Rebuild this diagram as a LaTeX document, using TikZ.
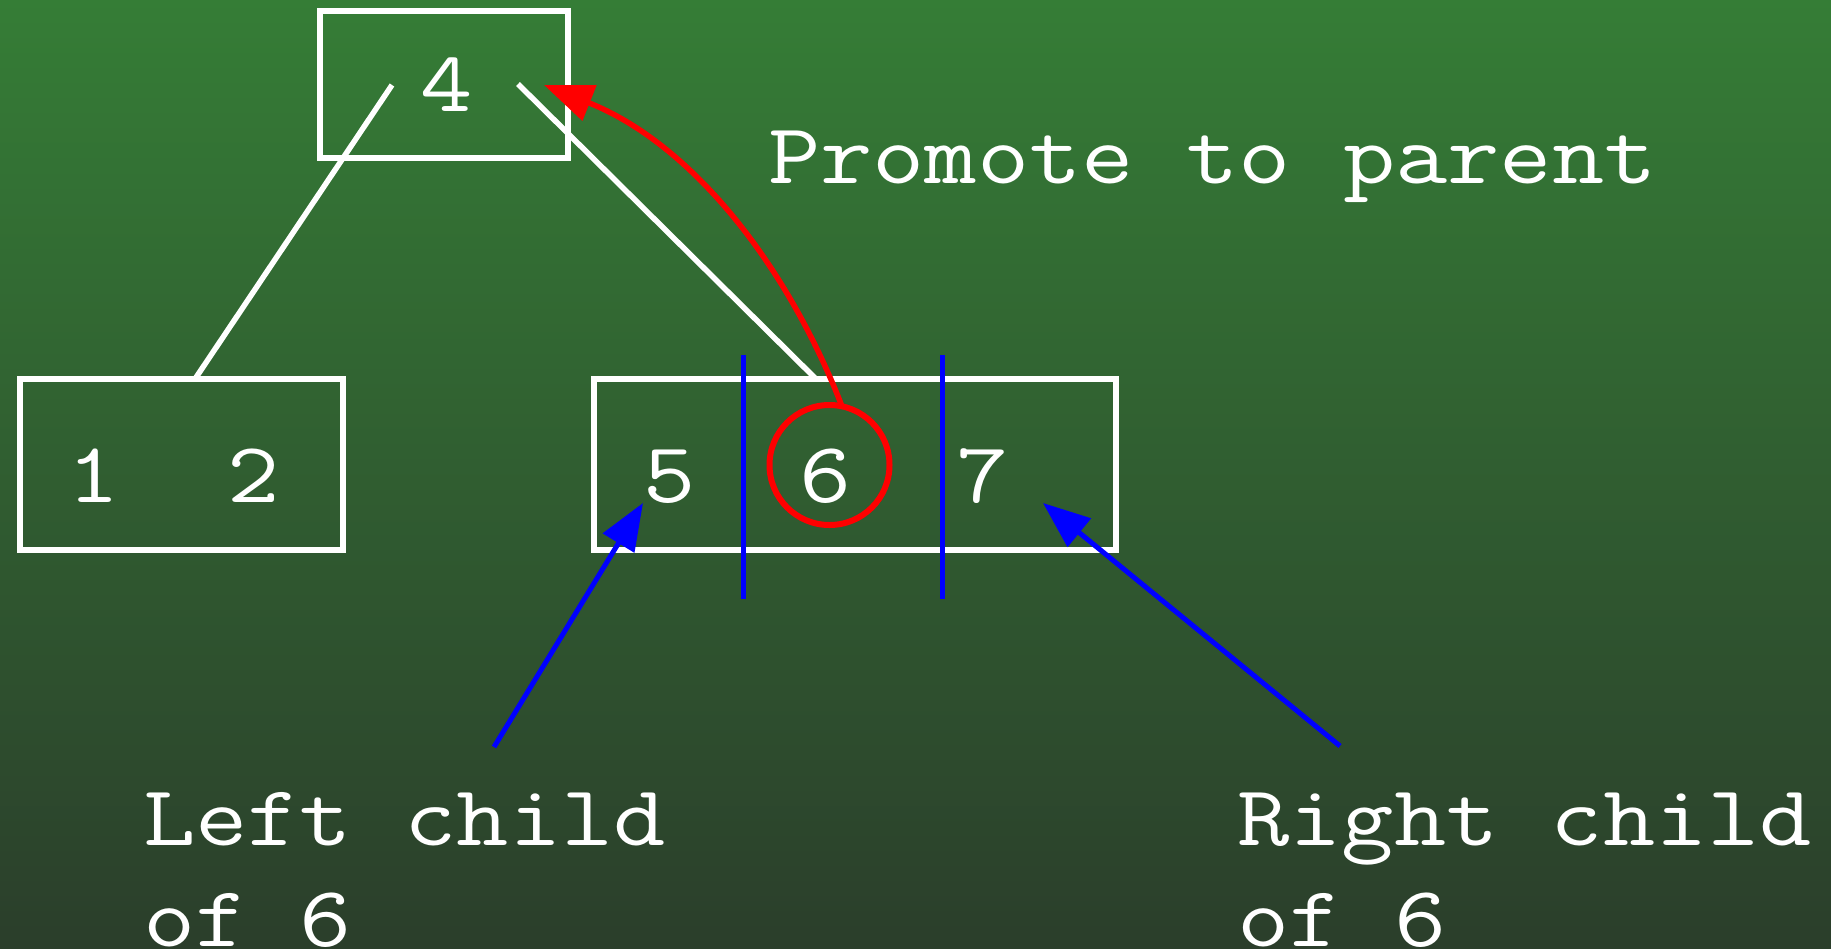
\documentclass[tikz,border=0pt]{standalone}
\usepackage{fontspec}
\usetikzlibrary{arrows.meta,calc}
\definecolor{bgtop}{RGB}{53,125,54}
\definecolor{bgbot}{RGB}{43,62,43}
% wide typewriter face
\newcommand{\wide}[1]{\scalebox{1.18}[1]{#1}}
\begin{document}
\begin{tikzpicture}[x=1pt,y=-1pt,
  keybox/.style={draw=white,line width=6pt,minimum width=#1,minimum height=171pt,inner sep=0pt,outer sep=0pt},
  digit/.style={text=white,anchor=base,inner sep=0pt,font=\fontsize{86}{98}\ttfamily},
  label/.style={text=white,anchor=base west,inner sep=0pt,font=\fontsize{86}{98}\ttfamily},
  edge/.style={draw=white,line width=5.5pt},
  divider/.style={draw=blue,line width=5pt},
  pointer/.style={draw=blue,line width=5pt,-{Triangle[length=47pt,width=36pt]}},
  promote/.style={draw=red,line width=5.5pt,-{Triangle[length=49pt,width=37pt]}}]
  % background
  \shade[top color=bgtop,bottom color=bgbot] (0,0) rectangle (1831,948);
  \useasboundingbox (0,0) rectangle (1831,948);

  % tree nodes
  \node[keybox=248pt,minimum height=147pt] (n4) at (444,84.5) {};
  \node[keybox=323pt] (n12) at (181.5,464.5) {};
  \node[keybox=522pt] (n567) at (855,464.5) {};

  % keys
  \node[digit] (d4) at (447,111) {\wide{4}};
  \node[digit] (d1) at (94,502) {\wide{1}};
  \node[digit] (d2) at (254,502) {\wide{2}};
  \node[digit] (d5) at (670,502) {\wide{5}};
  \node[digit] (d6) at (826,502) {\wide{6}};
  \node[digit] (d7) at (983,502) {\wide{7}};

  % child links
  \coordinate (e1) at (392,85);
  \coordinate (e2) at (518,84);
  \draw[edge] (e1) -- ($(n12.north)+(13.5,0)$);
  \draw[edge] (e2) -- ($(n567.north)+(-39,0)$);

  % split lines around the middle key
  \coordinate (s1t) at (743,355);
  \coordinate (s1b) at (743,599);
  \coordinate (s2t) at (942,355);
  \coordinate (s2b) at (942,599);
  \draw[divider] (s1t) -- (s1b);
  \draw[divider] (s2t) -- (s2b);

  % middle key marked and promoted
  \node[draw=red,line width=6pt,circle,minimum size=120pt,inner sep=0pt,outer sep=0pt] (c6) at (829.5,465) {};
  \coordinate (up) at (544,85);
  \draw[promote] (c6.78) .. controls (786,262) and (690,143) .. (up);

  % labels
  \node[label] (tp) at (768,183) {\wide{Promote to parent}};
  \node[label] (tl1) at (143,845) {\wide{Left child}};
  \node[label] (tl2) at (143,946) {\wide{of 6}};
  \node[label] (tr1) at (1237,845) {\wide{Right child}};
  \node[label] (tr2) at (1237,946) {\wide{of 6}};

  % pointers to the two children
  \coordinate (pl) at (494,747);
  \coordinate (pr) at (1340,746);
  \coordinate (hl) at (643,503);
  \coordinate (hr) at (1043,503);
  \draw[pointer] (pl) -- (hl);
  \draw[pointer] (pr) -- (hr);
\end{tikzpicture}
\end{document}
